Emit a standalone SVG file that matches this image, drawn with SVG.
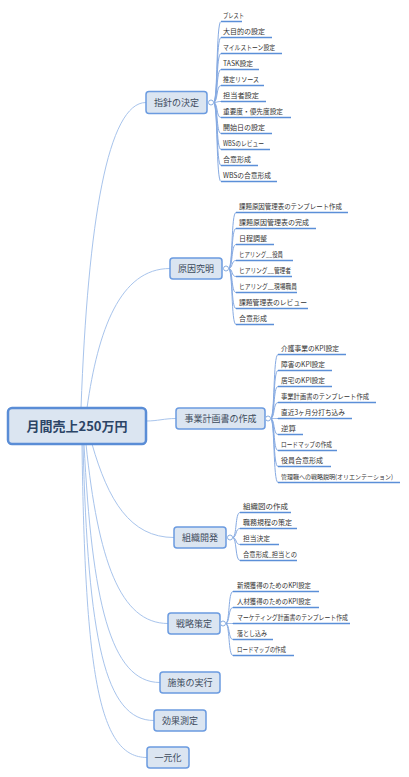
<svg xmlns="http://www.w3.org/2000/svg" width="409" height="777" viewBox="0 0 409 777">
<style>
.bg{fill:#ffffff}
.root rect{fill:#dbe5f1;stroke:#5a8dd6;stroke-width:2.5}
.root text{font-family:"Noto Sans CJK JP",sans-serif;font-size:13px;font-weight:bold;fill:#2b4466;text-anchor:middle}
.br rect{fill:#dbe5f1;stroke:#6b9be0;stroke-width:1.5}
.br text{font-family:"Noto Sans CJK JP",sans-serif;font-size:9px;fill:#3d4b5c;text-anchor:middle}
.br circle{fill:#ffffff;stroke:#8aaee0;stroke-width:1}
.lf line{stroke:#5b8fd8;stroke-width:1.5}
.lf text{font-family:"Noto Sans CJK JP",sans-serif;font-size:7px;fill:#333333}
.lf text.sm{font-size:6.2px}
.mc{fill:none;stroke:#a8c4ec;stroke-width:1}
.lc{fill:none;stroke:#86aae2;stroke-width:1}
</style>
<rect class="bg" x="0" y="0" width="409" height="777"/>
<g id="connectors">
<path class="mc" d="M81,408 C88,220 108,102.5 146,102.5"/>
<path class="mc" d="M87,408 C98,330 120,268.5 170,268.5"/>
<path class="mc" d="M146,421 C158,421 164,418.5 176,418.5"/>
<path class="mc" d="M92,444 C108,500 130,537.5 174,537.5"/>
<path class="mc" d="M86,444 C98,560 120,623.5 168,623.5"/>
<path class="mc" d="M84,444 C92,600 110,682.5 160,682.5"/>
<path class="mc" d="M83,444 C88,640 105,720.5 154,720.5"/>
<path class="mc" d="M82,444 C85,680 100,757.5 147,757.5"/>
<path class="lc" d="M213.5,102.5 C218,102.5 216,21.5 221,21.5"/>
<path class="lc" d="M213.5,102.5 C218,102.5 216,37.5 221,37.5"/>
<path class="lc" d="M213.5,102.5 C218,102.5 216,53.5 221,53.5"/>
<path class="lc" d="M213.5,102.5 C218,102.5 216,69.5 221,69.5"/>
<path class="lc" d="M213.5,102.5 C218,102.5 216,85.5 221,85.5"/>
<path class="lc" d="M213.5,102.5 C218,102.5 216,101.5 221,101.5"/>
<path class="lc" d="M213.5,102.5 C218,102.5 216,117.5 221,117.5"/>
<path class="lc" d="M213.5,102.5 C218,102.5 216,133.5 221,133.5"/>
<path class="lc" d="M213.5,102.5 C218,102.5 216,149.5 221,149.5"/>
<path class="lc" d="M213.5,102.5 C218,102.5 216,165.5 221,165.5"/>
<path class="lc" d="M213.5,102.5 C218,102.5 216,181.5 221,181.5"/>
<path class="lc" d="M228.5,268.5 C233,268.5 231,212.5 236,212.5"/>
<path class="lc" d="M228.5,268.5 C233,268.5 231,228.5 236,228.5"/>
<path class="lc" d="M228.5,268.5 C233,268.5 231,244.5 236,244.5"/>
<path class="lc" d="M228.5,268.5 C233,268.5 231,260.5 236,260.5"/>
<path class="lc" d="M228.5,268.5 C233,268.5 231,276.5 236,276.5"/>
<path class="lc" d="M228.5,268.5 C233,268.5 231,292.5 236,292.5"/>
<path class="lc" d="M228.5,268.5 C233,268.5 231,308.5 236,308.5"/>
<path class="lc" d="M228.5,268.5 C233,268.5 231,324.5 236,324.5"/>
<path class="lc" d="M270.5,418.5 C275,418.5 273,354.5 278,354.5"/>
<path class="lc" d="M270.5,418.5 C275,418.5 273,370.5 278,370.5"/>
<path class="lc" d="M270.5,418.5 C275,418.5 273,386.5 278,386.5"/>
<path class="lc" d="M270.5,418.5 C275,418.5 273,402.5 278,402.5"/>
<path class="lc" d="M270.5,418.5 C275,418.5 273,418.5 278,418.5"/>
<path class="lc" d="M270.5,418.5 C275,418.5 273,434.5 278,434.5"/>
<path class="lc" d="M270.5,418.5 C275,418.5 273,450.5 278,450.5"/>
<path class="lc" d="M270.5,418.5 C275,418.5 273,466.5 278,466.5"/>
<path class="lc" d="M270.5,418.5 C275,418.5 273,482.5 278,482.5"/>
<path class="lc" d="M232.5,537.5 C237,537.5 235,512.5 240,512.5"/>
<path class="lc" d="M232.5,537.5 C237,537.5 235,528.5 240,528.5"/>
<path class="lc" d="M232.5,537.5 C237,537.5 235,544.5 240,544.5"/>
<path class="lc" d="M232.5,537.5 C237,537.5 235,560.5 240,560.5"/>
<path class="lc" d="M225.5,623.5 C230,623.5 228,591.5 233,591.5"/>
<path class="lc" d="M225.5,623.5 C230,623.5 228,607.5 233,607.5"/>
<path class="lc" d="M225.5,623.5 C230,623.5 228,623.5 233,623.5"/>
<path class="lc" d="M225.5,623.5 C230,623.5 228,639.5 233,639.5"/>
<path class="lc" d="M225.5,623.5 C230,623.5 228,655.5 233,655.5"/>
</g>
<g id="root" class="root"><rect x="8" y="408" width="138" height="36" rx="4"/><text x="77" y="431">月間売上250万円</text></g>
<g id="n1" class="br"><rect x="146" y="91.5" width="61" height="22" rx="3"/><text x="176.5" y="105.8">指針の決定</text><circle cx="211" cy="102.5" r="2.5"/></g>
<g id="n2" class="br"><rect x="170" y="258" width="52" height="21" rx="3"/><text x="196" y="271.8">原因究明</text><circle cx="226" cy="268.5" r="2.5"/></g>
<g id="n3" class="br"><rect x="176" y="408" width="89" height="21" rx="3"/><text x="220.5" y="421.8">事業計画書の作成</text><circle cx="268" cy="418.5" r="2.5"/></g>
<g id="n4" class="br"><rect x="174" y="527" width="52" height="21" rx="3"/><text x="200" y="540.8">組織開発</text><circle cx="230" cy="537.5" r="2.5"/></g>
<g id="n5" class="br"><rect x="168" y="613" width="52" height="21" rx="3"/><text x="194" y="626.8">戦略策定</text><circle cx="223" cy="623.5" r="2.5"/></g>
<g id="n6" class="br"><rect x="160" y="672" width="60" height="21" rx="3"/><text x="190" y="685.8">施策の実行</text></g>
<g id="n7" class="br"><rect x="154" y="710" width="52" height="21" rx="3"/><text x="180" y="723.8">効果測定</text></g>
<g id="n8" class="br"><rect x="147" y="747" width="42" height="21" rx="3"/><text x="168" y="760.8">一元化</text></g>
<g id="leaves1" class="lf">
<line x1="221" y1="21.5" x2="242" y2="21.5"/><text x="223" y="17.5" textLength="21" lengthAdjust="spacingAndGlyphs">プレスト</text>
<line x1="221" y1="37.5" x2="272" y2="37.5"/><text x="223" y="33.5" textLength="42" lengthAdjust="spacingAndGlyphs">大目的の設定</text>
<line x1="221" y1="53.5" x2="282" y2="53.5"/><text x="223" y="49.5" textLength="52" lengthAdjust="spacingAndGlyphs">マイルストーン設定</text>
<line x1="221" y1="69.5" x2="259" y2="69.5"/><text x="223" y="65.5" textLength="30" lengthAdjust="spacingAndGlyphs">TASK設定</text>
<line x1="221" y1="85.5" x2="264" y2="85.5"/><text x="223" y="81.5" textLength="36" lengthAdjust="spacingAndGlyphs">推定リソース</text>
<line x1="221" y1="101.5" x2="266" y2="101.5"/><text x="223" y="97.5" textLength="36" lengthAdjust="spacingAndGlyphs">担当者設定</text>
<line x1="221" y1="117.5" x2="291" y2="117.5"/><text x="223" y="113.5" textLength="60" lengthAdjust="spacingAndGlyphs">重要度・優先度設定</text>
<line x1="221" y1="133.5" x2="272" y2="133.5"/><text x="223" y="129.5" textLength="42" lengthAdjust="spacingAndGlyphs">開始日の設定</text>
<line x1="221" y1="149.5" x2="270" y2="149.5"/><text x="223" y="145.5" textLength="41" lengthAdjust="spacingAndGlyphs">WBSのレビュー</text>
<line x1="221" y1="165.5" x2="258" y2="165.5"/><text x="223" y="161.5" textLength="28" lengthAdjust="spacingAndGlyphs">合意形成</text>
<line x1="221" y1="181.5" x2="277" y2="181.5"/><text x="223" y="177.5" textLength="48" lengthAdjust="spacingAndGlyphs">WBSの合意形成</text>
</g>
<g id="leaves2" class="lf">
<line x1="236" y1="212.5" x2="348" y2="212.5"/><text x="239" y="208.5" textLength="103" lengthAdjust="spacingAndGlyphs">課題原因管理表のテンプレート作成</text>
<line x1="236" y1="228.5" x2="316" y2="228.5"/><text x="239" y="224.5" textLength="70" lengthAdjust="spacingAndGlyphs">課題原因管理表の完成</text>
<line x1="236" y1="244.5" x2="274" y2="244.5"/><text x="239" y="240.5" textLength="28" lengthAdjust="spacingAndGlyphs">日程調整</text>
<line x1="236" y1="260.5" x2="293" y2="260.5"/><text x="239" y="256.5" textLength="44" lengthAdjust="spacingAndGlyphs">ヒアリング__役員</text>
<line x1="236" y1="276.5" x2="292" y2="276.5"/><text x="239" y="272.5" textLength="52" lengthAdjust="spacingAndGlyphs">ヒアリング__管理者</text>
<line x1="236" y1="292.5" x2="297" y2="292.5"/><text x="239" y="288.5" textLength="58" lengthAdjust="spacingAndGlyphs">ヒアリング__現場職員</text>
<line x1="236" y1="308.5" x2="308" y2="308.5"/><text x="239" y="304.5" textLength="68" lengthAdjust="spacingAndGlyphs">課題管理表のレビュー</text>
<line x1="236" y1="324.5" x2="274" y2="324.5"/><text x="239" y="320.5" textLength="28" lengthAdjust="spacingAndGlyphs">合意形成</text>
</g>
<g id="leaves3" class="lf">
<line x1="278" y1="354.5" x2="346" y2="354.5"/><text x="281" y="350.5" textLength="58" lengthAdjust="spacingAndGlyphs">介護事業のKPI設定</text>
<line x1="278" y1="370.5" x2="332" y2="370.5"/><text x="281" y="366.5" textLength="44" lengthAdjust="spacingAndGlyphs">障害のKPI設定</text>
<line x1="278" y1="386.5" x2="332" y2="386.5"/><text x="281" y="382.5" textLength="44" lengthAdjust="spacingAndGlyphs">居宅のKPI設定</text>
<line x1="278" y1="402.5" x2="376" y2="402.5"/><text x="281" y="398.5" textLength="88" lengthAdjust="spacingAndGlyphs">事業計画書のテンプレート作成</text>
<line x1="278" y1="418.5" x2="352" y2="418.5"/><text x="281" y="414.5" textLength="64" lengthAdjust="spacingAndGlyphs">直近3ヶ月分打ち込み</text>
<line x1="278" y1="434.5" x2="303" y2="434.5"/><text x="281" y="430.5" textLength="15" lengthAdjust="spacingAndGlyphs">逆算</text>
<line x1="278" y1="450.5" x2="337" y2="450.5"/><text x="281" y="446.5" textLength="51" lengthAdjust="spacingAndGlyphs">ロードマップの作成</text>
<line x1="278" y1="466.5" x2="331" y2="466.5"/><text x="281" y="462.5" textLength="42" lengthAdjust="spacingAndGlyphs">役員合意形成</text>
<line x1="278" y1="482.5" x2="400" y2="482.5"/><text class="sm" x="281" y="478.5" textLength="112" lengthAdjust="spacingAndGlyphs">管理職への戦略説明(オリエンテーション)</text>
</g>
<g id="leaves4" class="lf">
<line x1="240" y1="512.5" x2="291" y2="512.5"/><text x="243" y="508.5" textLength="45" lengthAdjust="spacingAndGlyphs">組織図の作成</text>
<line x1="240" y1="528.5" x2="297" y2="528.5"/><text x="243" y="524.5" textLength="49" lengthAdjust="spacingAndGlyphs">職務規程の策定</text>
<line x1="240" y1="544.5" x2="279" y2="544.5"/><text x="243" y="540.5" textLength="27" lengthAdjust="spacingAndGlyphs">担当決定</text>
<line x1="240" y1="560.5" x2="297" y2="560.5"/><text x="243" y="556.5" textLength="54" lengthAdjust="spacingAndGlyphs">合意形成_担当との</text>
</g>
<g id="leaves5" class="lf">
<line x1="233" y1="591.5" x2="319" y2="591.5"/><text x="237" y="587.5" textLength="74" lengthAdjust="spacingAndGlyphs">新規獲得のためのKPI設定</text>
<line x1="233" y1="607.5" x2="319" y2="607.5"/><text x="237" y="603.5" textLength="74" lengthAdjust="spacingAndGlyphs">人材獲得のためのKPI設定</text>
<line x1="233" y1="623.5" x2="350" y2="623.5"/><text x="237" y="619.5" textLength="111" lengthAdjust="spacingAndGlyphs">マーケティング計画書のテンプレート作成</text>
<line x1="233" y1="639.5" x2="273" y2="639.5"/><text x="237" y="635.5" textLength="30" lengthAdjust="spacingAndGlyphs">落とし込み</text>
<line x1="233" y1="655.5" x2="294" y2="655.5"/><text x="237" y="651.5" textLength="49" lengthAdjust="spacingAndGlyphs">ロードマップの作成</text>
</g>
</svg>
